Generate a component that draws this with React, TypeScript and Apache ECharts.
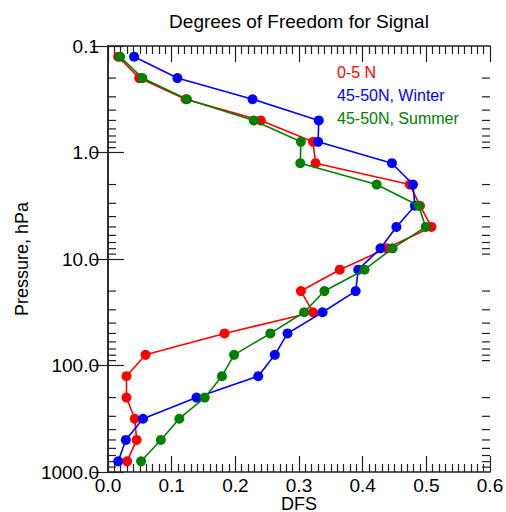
import React, { useEffect, useRef } from "react";
import * as echarts from "echarts";

const pressureLevels = [0.126, 0.2, 0.316, 0.5, 0.794, 1.26, 2, 3.16, 5, 7.94, 12.6, 20, 31.6, 50, 79.4, 126, 200, 316, 500, 794];
const dfsTropics = [0.016, 0.049, 0.122, 0.240, 0.322, 0.326, 0.474, 0.490, 0.508, 0.438, 0.364, 0.303, 0.322, 0.183, 0.059, 0.029, 0.029, 0.042, 0.045, 0.030];
const dfsWinter = [0.041, 0.109, 0.227, 0.331, 0.330, 0.446, 0.479, 0.482, 0.453, 0.428, 0.393, 0.389, 0.337, 0.282, 0.262, 0.236, 0.139, 0.055, 0.028, 0.016];
const dfsSummer = [0.019, 0.054, 0.124, 0.229, 0.303, 0.302, 0.422, 0.488, 0.499, 0.447, 0.403, 0.340, 0.308, 0.255, 0.198, 0.179, 0.152, 0.112, 0.083, 0.052];
const seriesNames = ["0-5 N", "45-50N, Winter", "45-50N, Summer"];
const seriesColors = ["#ff0000", "#0000ff", "#008000"];
const yMinorTicks = [0.2, 0.3, 0.4, 0.5, 0.6, 0.7, 0.8, 0.9, 2, 3, 4, 5, 6, 7, 8, 9, 20, 30, 40, 50, 60, 70, 80, 90, 200, 300, 400, 500, 600, 700, 800, 900];

const FONT = "Liberation Sans";
const AX = "#222";

export default function App() {
  const ref = useRef<HTMLDivElement>(null);
  useEffect(() => {
    if (!ref.current) return;
    const chart = echarts.init(ref.current, undefined, { renderer: "svg" });
    const mk = (vals: number[], i: number) => ({
      name: seriesNames[i],
      type: "line",
      data: vals.map((v, k) => [v, pressureLevels[k]]),
      symbol: "circle",
      symbolSize: 10,
      lineStyle: { color: seriesColors[i], width: 1.6 },
      itemStyle: { color: seriesColors[i] },
      z: 3 + i,
    });
    const xAxisBase = {
      type: "value",
      min: 0,
      max: 0.6,
      interval: 0.1,
      axisLine: { show: true, lineStyle: { color: AX, width: 1.5 } },
      axisTick: { show: true, inside: true, length: 16, lineStyle: { color: AX, width: 1.2 } },
      minorTick: { show: true, splitNumber: 10, length: 8, lineStyle: { color: AX, width: 1.2 } },
      splitLine: { show: false },
    };
    const yAxisBase = {
      type: "log",
      logBase: 10,
      min: 0.1,
      max: 1000,
      inverse: true,
      axisLine: { show: true, lineStyle: { color: AX, width: 1.5 } },
      axisTick: { show: true, inside: true, length: 16, lineStyle: { color: AX, width: 1.2 } },
      splitLine: { show: false },
    };
    chart.setOption({
      animation: false,
      textStyle: { fontFamily: FONT },
      title: {
        text: "Degrees of Freedom for Signal",
        left: 299,
        top: 12,
        padding: 0,
        textAlign: "center",
        textStyle: { fontFamily: FONT, fontSize: 19, fontWeight: "normal", color: "#000" },
      },
      legend: {
        data: seriesNames.map((n, i) => ({ name: n, textStyle: { color: seriesColors[i] } })),
        orient: "vertical",
        left: 327,
        top: 59,
        icon: "none",
        itemWidth: 0,
        itemHeight: 14,
        itemGap: 7,
        selectedMode: false,
        textStyle: { fontFamily: FONT, fontSize: 16 },
      },
      grid: { left: 108, right: 16, top: 46, bottom: 40, containLabel: false, outerBoundsMode: "none" },
      xAxis: [
        {
          ...xAxisBase,
          position: "bottom",
          name: "DFS",
          nameLocation: "middle",
          nameGap: 23,
          nameMoveOverlap: false,
          nameTextStyle: { fontFamily: FONT, fontSize: 18, color: "#000" },
          axisLabel: { fontFamily: FONT, fontSize: 19, color: "#000", margin: 4, formatter: (v: number) => v.toFixed(1) },
        },
        { ...xAxisBase, position: "top", axisLabel: { show: false } },
      ],
      yAxis: [
        {
          ...yAxisBase,
          position: "left",
          name: "Pressure, hPa",
          nameLocation: "middle",
          nameGap: 77,
          nameMoveOverlap: false,
          nameTextStyle: { fontFamily: FONT, fontSize: 18, color: "#000" },
          axisLabel: { fontFamily: FONT, fontSize: 19, color: "#000", margin: 9, formatter: (v: number) => v.toFixed(1) },
        },
        { ...yAxisBase, position: "right", axisLabel: { show: false } },
      ],
      series: [
        {
          type: "custom",
          silent: true,
          clip: false,
          data: yMinorTicks.map((p) => [0, p]),
          encode: { x: 0, y: 1 },
          z: 1,
          renderItem: (params: any, api: any) => {
            const cs = params.coordSys;
            const y = api.coord([0, api.value(1)])[1];
            const st = { stroke: AX, lineWidth: 1.2 };
            return {
              type: "group",
              children: [
                { type: "line", shape: { x1: cs.x, y1: y, x2: cs.x + 8, y2: y }, style: st },
                { type: "line", shape: { x1: cs.x + cs.width, y1: y, x2: cs.x + cs.width - 8, y2: y }, style: st },
              ],
            };
          },
        },
        mk(dfsTropics, 0),
        mk(dfsWinter, 1),
        mk(dfsSummer, 2),
      ],
    });
    return () => chart.dispose();
  }, []);
  return <div ref={ref} style={{ position: "absolute", left: 0, top: 0, width: 506, height: 512 }} />;
}
